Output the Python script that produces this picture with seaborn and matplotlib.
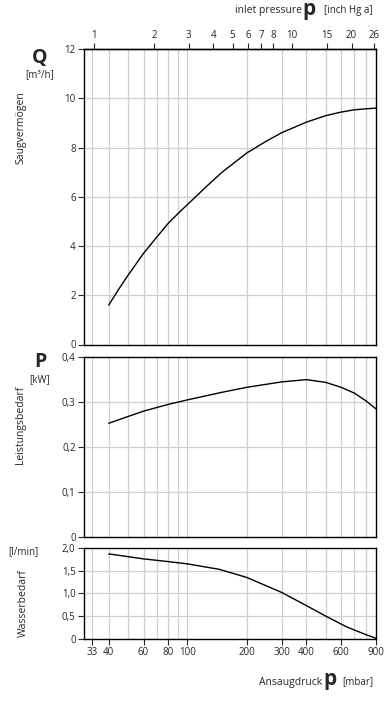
import numpy as np
import pandas as pd
import matplotlib
matplotlib.use("Agg")
import matplotlib.pyplot as plt
import seaborn as sns

sns.set_style("ticks")
plt.rcParams["font.family"] = ["Open Sans", "DejaVu Sans"]

# Saugvermögen Q [m3/h] ueber Ansaugdruck p [mbar]
q_p = [40, 45, 50, 60, 70, 80, 90, 100, 125, 150, 200, 250, 300, 400, 500, 600, 700, 800, 900]
q_val = [1.6, 2.25, 2.8, 3.7, 4.36, 4.92, 5.33, 5.68, 6.42, 7.0, 7.78, 8.25, 8.6, 9.03, 9.29, 9.44, 9.53, 9.57, 9.60]

# Leistungsbedarf P [kW]
p_p = [40, 50, 60, 70, 80, 100, 150, 200, 300, 400, 500, 600, 700, 800, 900]
p_val = [0.252, 0.267, 0.279, 0.287, 0.294, 0.304, 0.321, 0.332, 0.344, 0.349, 0.343, 0.332, 0.319, 0.302, 0.284]

# Wasserbedarf [l/min]
w_p = [40, 50, 60, 80, 100, 145, 200, 300, 400, 505, 640, 810, 900]
w_val = [1.87, 1.81, 1.76, 1.70, 1.65, 1.53, 1.35, 1.02, 0.73, 0.49, 0.26, 0.08, 0.01]

x_ticks = [33, 40, 60, 80, 100, 200, 300, 400, 600, 900]
x_grid = [33, 40, 50, 60, 70, 80, 90, 100, 200, 300, 400, 500, 600, 700, 800]
inhg_ticks = [1, 2, 3, 4, 5, 6, 7, 8, 10, 15, 20, 26]
MBAR_PER_INHG = 33.8639

W, H = 385, 707
fig = plt.figure(figsize=(W / 100, H / 100), dpi=100)

def box(top, bottom, left=84, right=376):
    return [left / W, 1 - bottom / H, (right - left) / W, (bottom - top) / H]

ax1 = fig.add_axes(box(49, 344.5))
ax2 = fig.add_axes(box(356.7, 536.7))
ax3 = fig.add_axes(box(548, 638.7))

fs = 7
grid_c = "#cfcfcf"

def style(ax, ylim, yticks, ylabels):
    ax.set_xscale("log")
    ax.set_xlim(30, 900)
    ax.set_ylim(*ylim)
    ax.set_yticks(yticks)
    ax.set_yticklabels(ylabels, fontsize=fs)
    for v in x_grid:
        ax.axvline(v, color=grid_c, lw=0.9, zorder=0)
    for v in yticks[1:-1]:
        ax.axhline(v, color=grid_c, lw=0.9, zorder=0)
    for s in ax.spines.values():
        s.set_visible(True)
        s.set_color("black")
        s.set_linewidth(1.0)
    ax.tick_params(axis="y", direction="out", length=4, width=0.8, pad=2)
    ax.set_xlabel("")
    ax.set_ylabel("")

df_q = pd.DataFrame({"p": q_p, "Q": q_val})
df_p = pd.DataFrame({"p": p_p, "P": p_val})
df_w = pd.DataFrame({"p": w_p, "W": w_val})

sns.lineplot(data=df_q, x="p", y="Q", ax=ax1, color="black", lw=1.0)
sns.lineplot(data=df_p, x="p", y="P", ax=ax2, color="black", lw=1.0)
sns.lineplot(data=df_w, x="p", y="W", ax=ax3, color="black", lw=1.0)

style(ax1, (0, 12), [0, 2, 4, 6, 8, 10, 12], ["0", "2", "4", "6", "8", "10", "12"])
style(ax2, (0, 0.4), [0, 0.1, 0.2, 0.3, 0.4], ["0", "0,1", "0,2", "0,3", "0,4"])
style(ax3, (0, 2.0), [0, 0.5, 1.0, 1.5, 2.0], ["0", "0,5", "1,0", "1,5", "2,0"])

for ax in (ax1, ax2):
    ax.tick_params(axis="x", which="both", bottom=False, labelbottom=False)

ax3.set_xticks(x_ticks)
ax3.set_xticks([], minor=True)
ax3.set_xticklabels([str(v) for v in x_ticks], fontsize=fs)
ax3.tick_params(axis="x", direction="out", length=4, width=0.8, pad=2)

sec = ax1.secondary_xaxis("top", functions=(lambda x: x / MBAR_PER_INHG,
                                             lambda x: x * MBAR_PER_INHG))
sec.set_xticks(inhg_ticks)
sec.set_xticks([], minor=True)
sec.set_xticklabels([str(v) for v in inhg_ticks], fontsize=fs)
sec.tick_params(axis="x", direction="out", length=4, width=0.8, pad=2)
sec.spines["top"].set_linewidth(1.0)

def ftext(x, y, s, **kw):
    fig.text(x / W, 1 - y / H, s, **kw)

# Achsentitel links
ftext(40, 58, "Q", fontsize=14, fontweight="bold", ha="center", va="center")
ftext(40, 75, "[m³/h]", fontsize=7, ha="center", va="center")
ftext(21, 128, "Saugvermögen", fontsize=7.5, rotation=90, ha="center", va="center")

ftext(40, 362, "P", fontsize=14, fontweight="bold", ha="center", va="center")
ftext(40, 380, "[kW]", fontsize=7, ha="center", va="center")
ftext(21, 425, "Leistungsbedarf", fontsize=7.5, rotation=90, ha="center", va="center")

ftext(23, 552, "[l/min]", fontsize=7, ha="center", va="center")
ftext(23, 603, "Wasserbedarf", fontsize=7.5, rotation=90, ha="center", va="center")

# Achsentitel unten
ftext(373, 682, "[mbar]", fontsize=7, ha="right", va="center")
ftext(337, 680, "p", fontsize=15, fontweight="bold", ha="right", va="center")
ftext(322, 682, "Ansaugdruck", fontsize=7.5, ha="right", va="center")

# Achsentitel oben
ftext(373, 11, "[inch Hg a]", fontsize=7, ha="right", va="center")
ftext(316, 9, "p", fontsize=15, fontweight="bold", ha="right", va="center")
ftext(302, 11, "inlet pressure", fontsize=7.5, ha="right", va="center")

fig.savefig("out.png", dpi=100)
